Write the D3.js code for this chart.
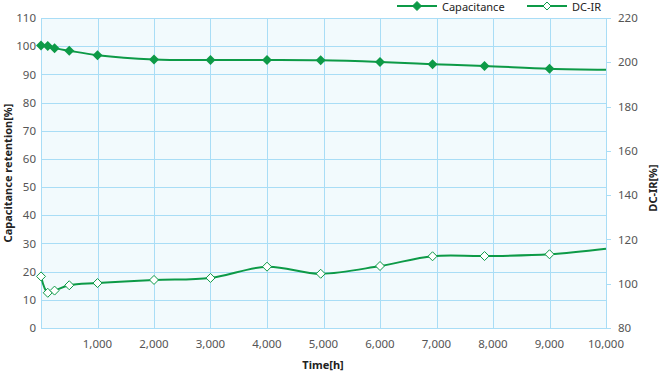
<!DOCTYPE html>
<html><head><meta charset="utf-8">
<script src="https://cdn.jsdelivr.net/npm/d3@7"></script>
<style>
html,body{margin:0;padding:0;background:#fff;}
svg{display:block;font-family:"Noto Sans","DejaVu Sans",sans-serif;}
</style></head>
<body><svg id="c" width="660" height="373"></svg>
<script>
const times = [0, 120, 240, 500, 1000, 2000, 3000, 4000, 4950, 6000, 6930, 7850, 9000, 10000];
const capacitance = [100.2, 100.1, 99.3, 98.4, 96.8, 95.3, 95.1, 95.1, 95.0, 94.4, 93.6, 93.0, 92.0, 91.6];
const dcir = [103.3, 95.9, 96.9, 99.3, 100.3, 101.7, 102.6, 107.7, 104.5, 108.0, 112.4, 112.5, 113.3, 115.8];
const xTicks = [1000, 2000, 3000, 4000, 5000, 6000, 7000, 8000, 9000, 10000];
const leftTicks = [0, 10, 20, 30, 40, 50, 60, 70, 80, 90, 100, 110];
const rightTicks = [80, 100, 120, 140, 160, 180, 200, 220];
const seriesNames = ["Capacitance", "DC-IR"];

const svg = d3.select("#c");
const L = 41, R = 606, T = 18, B = 328;
const green = "#0d9a47", gridC = "#a9ddf6", tickC = "#555";

const x = d3.scaleLinear().domain([0, 10000]).range([L, R]);
const yL = d3.scaleLinear().domain([0, 110]).range([B, T]);
const yR = d3.scaleLinear().domain([80, 220]).range([B, T]);

svg.append("rect").attr("x", L).attr("y", T).attr("width", R - L).attr("height", B - T).attr("fill", "#f2fafd");

// grid
svg.append("g").selectAll("line").data(leftTicks).join("line")
  .attr("x1", L).attr("x2", R).attr("y1", d => Math.round(yL(d)) + 0.5).attr("y2", d => Math.round(yL(d)) + 0.5)
  .attr("stroke", gridC).attr("stroke-width", 1);
svg.append("g").selectAll("line").data([0].concat(xTicks)).join("line")
  .attr("x1", d => Math.round(x(d)) + 0.5).attr("x2", d => Math.round(x(d)) + 0.5).attr("y1", T).attr("y2", B)
  .attr("stroke", gridC).attr("stroke-width", 1);

// left axis labels
svg.append("g").selectAll("text").data(leftTicks).join("text")
  .attr("x", 36).attr("y", d => yL(d)).attr("dy", "0.36em").attr("text-anchor", "end")
  .attr("font-size", 11.5).attr("fill", tickC).text(d => d);

// right axis ticks + labels
svg.append("g").selectAll("line").data(rightTicks).join("line")
  .attr("x1", R).attr("x2", R + 5).attr("y1", d => Math.round(yR(d)) + 0.5).attr("y2", d => Math.round(yR(d)) + 0.5)
  .attr("stroke", gridC);
svg.append("g").selectAll("text").data(rightTicks).join("text")
  .attr("x", 618).attr("y", d => yR(d)).attr("dy", "0.36em").attr("text-anchor", "start")
  .attr("font-size", 11.5).attr("fill", tickC).text(d => d);

// x axis labels
const fmt = d3.format(",");
svg.append("g").selectAll("text").data(xTicks).join("text")
  .attr("x", d => x(d)).attr("y", 348).attr("text-anchor", "middle")
  .attr("font-size", 11.5).attr("fill", tickC).text(d => fmt(d));

// titles
svg.append("text").attr("x", 323).attr("y", 369).attr("text-anchor", "middle")
  .attr("font-size", 11).attr("font-weight", "bold").attr("fill", "#222").text("Time[h]");
svg.append("text").attr("transform", "translate(12,173) rotate(-90)").attr("text-anchor", "middle")
  .attr("font-size", 11).attr("font-weight", "bold").attr("fill", "#222").text("Capacitance retention[%]");
svg.append("text").attr("transform", "translate(657,188) rotate(-90)").attr("text-anchor", "middle")
  .attr("font-size", 11).attr("font-weight", "bold").attr("fill", "#222").text("DC-IR[%]");

// lines
const curve = d3.curveCatmullRom.alpha(0.5);
const capLine = d3.line().x((d, i) => x(times[i])).y(d => yL(d)).curve(curve);
const dcLine = d3.line().x((d, i) => x(times[i])).y(d => yR(d)).curve(curve);
svg.append("path").attr("d", capLine(capacitance)).attr("fill", "none").attr("stroke", green).attr("stroke-width", 2);
svg.append("path").attr("d", dcLine(dcir)).attr("fill", "none").attr("stroke", green).attr("stroke-width", 2);

const diamond = s => `M0,${-s}L${s},0L0,${s}L${-s},0Z`;
svg.append("g").selectAll("path").data(capacitance.slice(0, -1)).join("path")
  .attr("transform", (d, i) => `translate(${x(times[i])},${yL(d)})`)
  .attr("d", diamond(5)).attr("fill", green);
svg.append("g").selectAll("path").data(dcir.slice(0, -1)).join("path")
  .attr("transform", (d, i) => `translate(${x(times[i])},${yR(d)})`)
  .attr("d", diamond(4.5)).attr("fill", "#fff").attr("stroke", green).attr("stroke-width", 1);

// legend
const leg = [{x: 397, filled: true}, {x: 527, filled: false}];
const lg = svg.append("g").selectAll("g").data(seriesNames).join("g")
  .attr("transform", (d, i) => `translate(${leg[i].x},6)`);
lg.append("line").attr("x1", 0).attr("x2", 40).attr("stroke", green).attr("stroke-width", 2);
lg.append("path").attr("transform", "translate(20,0)").attr("d", (d, i) => diamond(i === 0 ? 4.5 : 4))
  .attr("fill", (d, i) => leg[i].filled ? green : "#fff").attr("stroke", green).attr("stroke-width", 1);
lg.append("text").attr("x", 45).attr("y", 1).attr("dy", "0.32em").attr("font-size", 11).attr("fill", "#222").text(d => d);
</script></body></html>
